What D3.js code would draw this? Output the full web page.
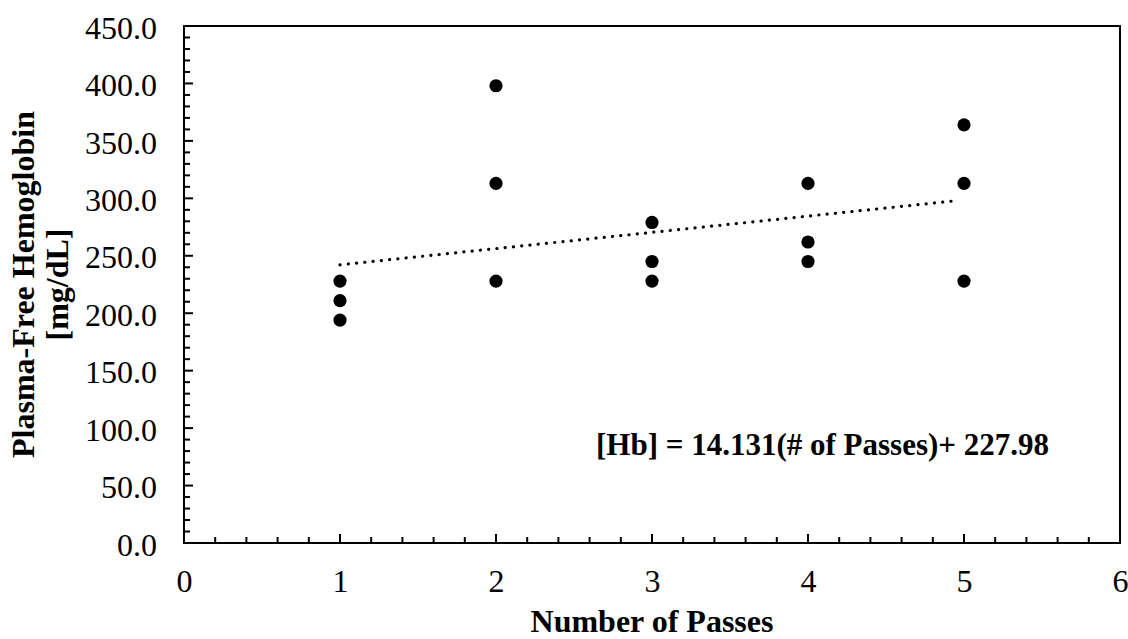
<!DOCTYPE html>
<html>
<head>
<meta charset="utf-8">
<script src="https://cdn.jsdelivr.net/npm/d3@7"></script>
<style>
  body { margin: 0; background: #fff; }
  text { font-family: "Liberation Serif", "Times New Roman", serif; }
</style>
</head>
<body>
<script>
// Data
var passes = [1, 1, 1, 2, 2, 2, 3, 3, 3, 4, 4, 4, 5, 5, 5];
var hemoglobin = [228, 211, 194, 398, 313, 228, 279, 245, 228, 313, 262, 245, 364, 313, 228];
var xTicks = [0, 1, 2, 3, 4, 5, 6];
var yTicks = [0, 50, 100, 150, 200, 250, 300, 350, 400, 450];
var trendSlope = 14.131;
var trendIntercept = 227.98;
var trendRange = [1, 5];

var width = 1128, height = 639;
var margin = { left: 184, right: 8, top: 26, bottom: 96 };

var svg = d3.select("body").append("svg")
    .attr("width", width)
    .attr("height", height);

var x = d3.scaleLinear().domain([0, 6]).range([margin.left, width - margin.right]);
var y = d3.scaleLinear().domain([0, 450]).range([height - margin.bottom, margin.top]);

// frame
svg.append("rect")
    .attr("x", x(0)).attr("y", y(450))
    .attr("width", x(6) - x(0)).attr("height", y(0) - y(450))
    .attr("fill", "none").attr("stroke", "#000").attr("stroke-width", 2);

// minor ticks (inside)
var xMinor = d3.range(0, 6.001, 0.2);
var yMinor = d3.range(0, 450.001, 10);

svg.append("g").selectAll("line").data(xMinor).enter().append("line")
    .attr("x1", function (d) { return x(d); })
    .attr("x2", function (d) { return x(d); })
    .attr("y1", y(0))
    .attr("y2", function (d) { return y(0) - (Math.abs(d - Math.round(d)) < 1e-6 ? 9 : 6); })
    .attr("stroke", "#000").attr("stroke-width", 2);

svg.append("g").selectAll("line").data(yMinor).enter().append("line")
    .attr("y1", function (d) { return y(d); })
    .attr("y2", function (d) { return y(d); })
    .attr("x1", x(0))
    .attr("x2", function (d) { return x(0) + (d % 50 === 0 ? 9 : 6); })
    .attr("stroke", "#000").attr("stroke-width", 2);

// axes labels via d3 axes, no lines
var xAxis = svg.append("g")
    .attr("transform", "translate(0," + y(0) + ")")
    .call(d3.axisBottom(x).tickValues(xTicks).tickSize(0).tickPadding(26).tickFormat(d3.format("d")));
var yAxis = svg.append("g")
    .attr("transform", "translate(" + x(0) + ",0)")
    .call(d3.axisLeft(y).tickValues(yTicks).tickSize(0).tickPadding(27).tickFormat(d3.format(".1f")));

[xAxis, yAxis].forEach(function (g) {
  g.select(".domain").remove();
  g.selectAll("text")
      .attr("font-family", "'Liberation Serif', 'Times New Roman', serif")
      .attr("font-size", 32)
      .attr("fill", "#000");
});
yAxis.selectAll("text").attr("dy", "0.38em");

// trend line
svg.append("line")
    .attr("x1", x(trendRange[0]))
    .attr("y1", y(trendSlope * trendRange[0] + trendIntercept))
    .attr("x2", x(trendRange[1]) - 6)
    .attr("y2", y(trendSlope * (trendRange[1] - 6 / 156) + trendIntercept))
    .attr("stroke", "#000")
    .attr("stroke-width", 3.2)
    .attr("stroke-linecap", "round")
    .attr("stroke-dasharray", "0.1,8.2");

// points
svg.append("g").selectAll("circle")
    .data(passes)
    .enter()
    .append("circle")
    .attr("cx", function (d) { return x(d); })
    .attr("cy", function (d, i) { return y(hemoglobin[i]); })
    .attr("r", 6.6)
    .attr("fill", "#000");

// equation
svg.append("text")
    .attr("x", 596).attr("y", 455)
    .attr("font-size", 31).attr("font-weight", "bold")
    .text("[Hb] = 14.131(# of Passes)+ 227.98");

// axis titles
svg.append("text")
    .attr("x", (x(0) + x(6)) / 2).attr("y", 632)
    .attr("text-anchor", "middle")
    .attr("font-size", 32).attr("font-weight", "bold")
    .text("Number of Passes");

var yc = (y(0) + y(450)) / 2;
svg.append("text")
    .attr("transform", "translate(34," + yc + ") rotate(-90)")
    .attr("text-anchor", "middle")
    .attr("font-size", 32).attr("font-weight", "bold")
    .text("Plasma-Free Hemoglobin");
svg.append("text")
    .attr("transform", "translate(68," + yc + ") rotate(-90)")
    .attr("text-anchor", "middle")
    .attr("font-size", 32).attr("font-weight", "bold")
    .text("[mg/dL]");
</script>
</body>
</html>
